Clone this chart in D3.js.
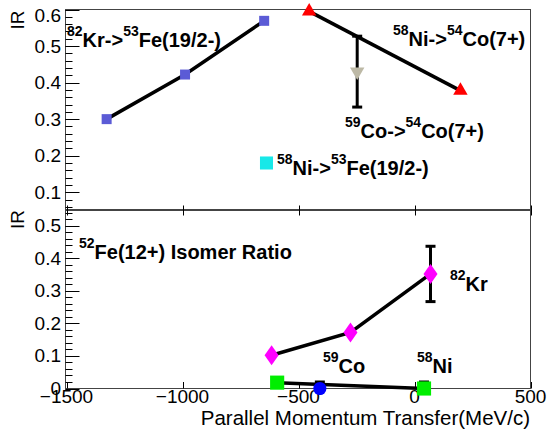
<!DOCTYPE html>
<html lang="en">

<head>
    <meta charset="utf-8">
    <title>Isomer ratio</title>
    <script src="https://d3js.org/d3.v7.min.js"></script>
    <style>
        body { margin: 0; background: #fff; }
        text { font-family: "Liberation Sans", Arial, sans-serif; }
    </style>
</head>

<body>
    <script type="text/javascript">

        var w = 548;
        var h = 438;

        // top panel: 82Kr->53Fe(19/2-)
        var krFeX = [-1327, -989, -648];
        var krFeY = [0.30, 0.422, 0.569];
        // 58Ni->53Fe(19/2-)
        var niFeX = [-638];
        var niFeY = [0.18];
        // 58Ni->54Co(7+)
        var niCoX = [-454, 198];
        var niCoY = [0.595, 0.378];
        // 59Co->54Co(7+)
        var coCoX = [-247];
        var coCoY = [0.43];
        var coCoErr = [0.097];

        // bottom panel: 52Fe(12+)
        var krX = [-616, -276, 69];
        var krY = [0.102, 0.172, 0.352];
        var krErr = [0, 0, 0.085];
        var niX = [-592, 41];
        var niY = [0.018, 0.0];
        var niErr = [0, 0.02];
        var coX = [-408];
        var coY = [0.0];
        var coErr = [0.02];

        var xTicks = [-1500, -1000, -500, 0, 500];
        var topTicks = [0.1, 0.2, 0.3, 0.4, 0.5, 0.6];
        var botTicks = [0, 0.1, 0.2, 0.3, 0.4, 0.5];

        var left = 65.5, right = 530.5;
        var x = d3.scaleLinear().domain([-1500, 500]).range([66.5, 530.5]);
        var yTop = d3.scaleLinear().domain([0.05, 0.6]).range([210.5, 9.5]);
        var yBot = d3.scaleLinear().domain([0, 0.55]).range([388.5, 209.5]);

        var svg = d3.select("body")
            .append("svg")
            .attr("width", w)
            .attr("height", h);

        function pts(xs, ys) {
            return xs.map(function (d, i) { return [d, ys[i]]; });
        }

        var diamond = {
            draw: function (c, size) {
                var a = 7, b = 10;
                c.moveTo(0, -b); c.lineTo(a, 0); c.lineTo(0, b); c.lineTo(-a, 0); c.closePath();
            }
        };

        // frames
        function frame(y0, y1) {
            svg.append("rect")
                .attr("x", left).attr("y", y0)
                .attr("width", right - left).attr("height", y1 - y0)
                .attr("fill", "none").attr("stroke", "#444").attr("stroke-width", 1);
        }
        frame(9.5, 210.5);
        frame(209.5, 388.5);

        // y axes with minor ticks
        function yAxis(y, ticks, lo, hi) {
            var g = svg.append("g");
            var minor = d3.range(Math.round(lo * 100), Math.round(hi * 100) + 1, 2).map(function (d) { return d / 100; });
            g.selectAll("line.mn").data(minor).enter().append("line")
                .attr("x1", left).attr("x2", left + 7)
                .attr("y1", function (d) { return Math.round(y(d)) + 0.5; })
                .attr("y2", function (d) { return Math.round(y(d)) + 0.5; })
                .attr("stroke", "#000");
            g.selectAll("line.mj").data(ticks).enter().append("line")
                .attr("x1", left).attr("x2", left + 14)
                .attr("y1", function (d) { return Math.round(y(d)) + 0.5; })
                .attr("y2", function (d) { return Math.round(y(d)) + 0.5; })
                .attr("stroke", "#000");
            g.selectAll("text").data(ticks).enter().append("text")
                .attr("x", 61)
                .attr("y", function (d, i) { return y(d) + (d === 0.6 ? 12 : 6.5); })
                .attr("text-anchor", "end")
                .attr("font-size", 19)
                .text(function (d) { return d === 0 ? "0" : d3.format(".1f")(d); });
        }
        yAxis(yTop, topTicks, 0.06, 0.6);
        yAxis(yBot, botTicks, 0, 0.54);

        // x ticks
        svg.selectAll("line.xb").data(xTicks).enter().append("line")
            .attr("x1", function (d) { return Math.round(x(d)) + 0.5; })
            .attr("x2", function (d) { return Math.round(x(d)) + 0.5; })
            .attr("y1", 388.5).attr("y2", 382)
            .attr("stroke", "#000");
        svg.selectAll("line.xm").data(xTicks).enter().append("line")
            .attr("x1", function (d) { return Math.round(x(d)) + 0.5; })
            .attr("x2", function (d) { return Math.round(x(d)) + 0.5; })
            .attr("y1", 205.5).attr("y2", 215.5)
            .attr("stroke", "#000");
        svg.selectAll("text.xl").data(xTicks).enter().append("text")
            .attr("x", function (d) { return x(d); })
            .attr("y", 403)
            .attr("text-anchor", "middle")
            .attr("font-size", 19)
            .text(function (d) { return d3.format("")(d); });

        svg.append("text")
            .attr("x", 530).attr("y", 425)
            .attr("text-anchor", "end")
            .attr("font-size", 20.5)
            .text("Parallel Momentum Transfer(MeV/c)");

        [10.5, 210].forEach(function (ty) {
            svg.append("text")
                .attr("transform", "translate(24," + ty + ") rotate(-90)")
                .attr("text-anchor", "end")
                .attr("font-size", 19)
                .text("IR");
        });

        var line = d3.line();

        function series(data, y, color, shape, size, rot) {
            if (data.length > 1) {
                svg.append("path")
                    .attr("d", line(data.map(function (d) { return [x(d[0]), y(d[1])]; })))
                    .attr("fill", "none").attr("stroke", "#000").attr("stroke-width", 3.5);
            }
            data.forEach(function (d) {
                if (d[2]) {
                    var cx = x(d[0]);
                    svg.append("line")
                        .attr("x1", cx).attr("x2", cx)
                        .attr("y1", y(d[1] + d[2])).attr("y2", y(d[1] - d[2]))
                        .attr("stroke", "#000").attr("stroke-width", 3);
                    [d[1] + d[2], d[1] - d[2]].forEach(function (v) {
                        if (v < y.domain()[0]) return;
                        svg.append("line")
                            .attr("x1", cx - 5).attr("x2", cx + 5)
                            .attr("y1", y(v)).attr("y2", y(v))
                            .attr("stroke", "#000").attr("stroke-width", 3);
                    });
                }
            });
            svg.selectAll(null).data(data).enter().append("path")
                .attr("d", d3.symbol().type(shape).size(size))
                .attr("transform", function (d) {
                    return "translate(" + x(d[0]) + "," + y(d[1]) + ")" + (rot ? " rotate(" + rot + ")" : "");
                })
                .attr("fill", color);
        }

        function withErr(xs, ys, es) {
            return xs.map(function (d, i) { return [d, ys[i], es[i]]; });
        }

        series(pts(krFeX, krFeY), yTop, "#5b5bd6", d3.symbolSquare, 100);
        series(pts(niFeX, niFeY), yTop, "#18e8e8", d3.symbolSquare, 170);
        series(pts(niCoX, niCoY), yTop, "#ff0000", d3.symbolTriangle, 90);
        series(withErr(coCoX, coCoY, coCoErr), yTop, "#bdb9a6", d3.symbolTriangle, 90, 180);

        series(withErr(krX, krY, krErr), yBot, "#ff00ff", diamond, 100);
        series(withErr(niX, niY, niErr), yBot, "#00ee00", d3.symbolSquare, 200);
        series(withErr(coX, coY, coErr), yBot, "#0000ff", d3.symbolCircle, 135);

        // labels
        function label(tx, ty, parts) {
            var t = svg.append("text")
                .attr("x", tx).attr("y", ty)
                .attr("font-size", 20)
                .attr("font-weight", "bold");
            parts.forEach(function (p) {
                if (p[1]) {
                    t.append("tspan").attr("font-size", 14).attr("dy", -11).text(p[0]);
                } else {
                    t.append("tspan").attr("dy", 11).text(p[0]);
                }
            });
            t.select("tspan").each(function () {
                if (d3.select(this).attr("dy") === "11") d3.select(this).attr("dy", 0);
            });
        }

        label(67, 47, [["82", 1], ["Kr->"], ["53", 1], ["Fe(19/2-)"]]);
        label(393, 46, [["58", 1], ["Ni->"], ["54", 1], ["Co(7+)"]]);
        label(345, 138, [["59", 1], ["Co->"], ["54", 1], ["Co(7+)"]]);
        label(277, 175, [["58", 1], ["Ni->"], ["53", 1], ["Fe(19/2-)"]]);
        label(79, 259, [["52", 1], ["Fe(12+) Isomer Ratio"]]);
        label(450, 291, [["82", 1], ["Kr"]]);
        label(323, 373, [["59", 1], ["Co"]]);
        label(417, 373, [["58", 1], ["Ni"]]);

    </script>
</body>

</html>
